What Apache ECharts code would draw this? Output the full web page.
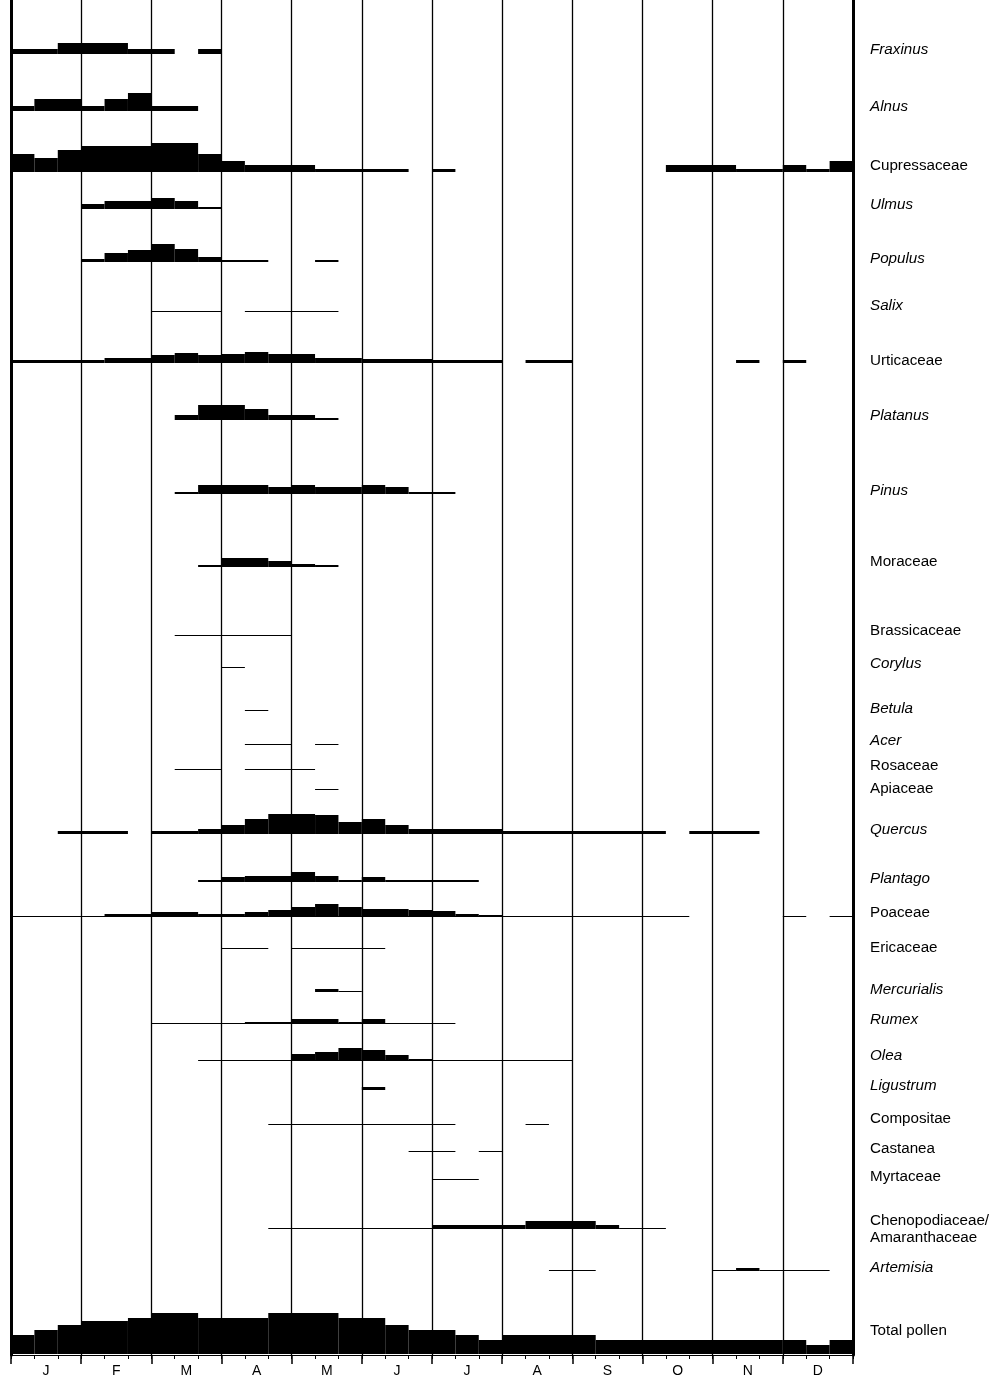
<!DOCTYPE html>
<html><head><meta charset="utf-8">
<script src="https://cdn.jsdelivr.net/npm/echarts@6/dist/echarts.min.js"></script>
<style>html,body{margin:0;padding:0;background:#fff}#c{width:999px;height:1378px}</style>
</head><body><div id="c"></div>
<script>
const months = ['J','F','M','A','M','J','J','A','S','O','N','D'];
const taxa = ['Fraxinus','Alnus','Cupressaceae','Ulmus','Populus','Salix','Urticaceae','Platanus','Pinus','Moraceae','Brassicaceae','Corylus','Betula','Acer','Rosaceae','Apiaceae','Quercus','Plantago','Poaceae','Ericaceae','Mercurialis','Rumex','Olea','Ligustrum','Compositae','Castanea','Myrtaceae','Chenopodiaceae/\nAmaranthaceae','Artemisia','Total pollen'];
const italic = [1,1,0,1,1,1,0,1,1,0,0,1,1,1,0,0,1,1,0,0,1,1,1,1,0,0,0,0,1,0];
// segments per taxon: [first 10-day period, last period, concentration class]
const fraxinus = [[0,1,5],[2,4,11],[5,6,5],[8,8,5]];
const alnus = [[0,0,5],[1,2,12],[3,3,5],[4,4,12],[5,5,18],[6,7,5]];
const cupressaceae = [[0,0,18],[1,1,14],[2,2,22],[3,5,26],[6,7,29],[8,8,18],[9,9,11],[10,12,7],[13,16,3],[18,18,3],[28,30,7],[31,32,3],[33,33,7],[34,34,3],[35,35,11]];
const ulmus = [[3,3,5],[4,5,8],[6,6,11],[7,7,8],[8,8,2]];
const populus = [[3,3,3],[4,4,9],[5,5,12],[6,6,18],[7,7,13],[8,8,5],[9,10,2],[13,13,2]];
const salix = [[6,8,1],[10,13,1]];
const urticaceae = [[0,3,3],[4,5,5],[6,6,8],[7,7,10],[8,8,8],[9,9,9],[10,10,11],[11,12,9],[13,14,5],[15,17,4],[18,20,3],[22,23,3],[31,31,3],[33,33,3]];
const platanus = [[7,7,5],[8,9,15],[10,10,11],[11,12,5],[13,13,2]];
const pinus = [[7,7,2],[8,10,9],[11,11,7],[12,12,9],[13,14,7],[15,15,9],[16,16,7],[17,18,2]];
const moraceae = [[8,8,2],[9,10,9],[11,11,6],[12,12,3],[13,13,2]];
const brassicaceae = [[7,11,1]];
const corylus = [[9,9,1]];
const betula = [[10,10,1]];
const acer = [[10,11,1],[13,13,1]];
const rosaceae = [[7,8,1],[10,12,1]];
const apiaceae = [[13,13,1]];
const quercus = [[2,4,3],[6,7,3],[8,8,5],[9,9,9],[10,10,15],[11,12,20],[13,13,19],[14,14,12],[15,15,15],[16,16,9],[17,20,5],[21,27,3],[29,31,3]];
const plantago = [[8,8,2],[9,9,5],[10,11,6],[12,12,10],[13,13,6],[14,14,2],[15,15,5],[16,19,2]];
const poaceae = [[0,28,1],[33,33,1],[35,35,1],[4,5,3],[6,7,5],[8,9,3],[10,10,5],[11,11,7],[12,12,10],[13,13,13],[14,14,10],[15,16,8],[17,17,7],[18,18,6],[19,19,3],[20,20,2]];
const ericaceae = [[9,10,1],[12,15,1]];
const mercurialis = [[13,13,3],[14,14,1]];
const rumex = [[6,18,1],[10,11,2],[12,13,5],[14,14,2],[15,15,5]];
const olea = [[8,23,1],[12,12,7],[13,13,9],[14,14,13],[15,15,11],[16,16,6],[17,17,2]];
const ligustrum = [[15,15,3]];
const compositae = [[11,18,1],[22,22,1]];
const castanea = [[17,18,1],[20,20,1]];
const myrtaceae = [[18,19,1]];
const chenopodiaceae = [[11,17,1],[18,21,4],[22,24,8],[25,25,4],[26,27,1]];
const artemisia = [[23,24,1],[30,30,1],[31,31,3],[32,34,1]];
const totalPollen = [[0,0,19],[1,1,24],[2,2,29],[3,4,33],[5,5,36],[6,7,41],[8,10,36],[11,13,41],[14,15,36],[16,16,29],[17,18,24],[19,19,19],[20,20,14],[21,24,19],[25,32,14],[33,33,14],[34,34,9],[35,35,14]];
const allSegs = [fraxinus,alnus,cupressaceae,ulmus,populus,salix,urticaceae,platanus,pinus,moraceae,brassicaceae,corylus,betula,acer,rosaceae,apiaceae,quercus,plantago,poaceae,ericaceae,mercurialis,rumex,olea,ligustrum,compositae,castanea,myrtaceae,chenopodiaceae,artemisia,totalPollen];

// layout: baseline and label position (in y-axis units = px from top)
const baseY = [54,111,172,209,262,312,363,420,494,567,636,668,711,745,770,790,834,882,917,949,992,1024,1061,1090,1125,1152,1180,1229,1271,1354];
const labelY = [50,107,166,205,259,306,361,416,491,562,631,664,709,741,766,789,830,879,913,948,990,1020,1056,1086,1119,1149,1177,1229,1268,1331];

const bars = [];
allSegs.forEach((segs,r)=>segs.forEach(s=>bars.push([s[0],s[1]+1,baseY[r],s[2]])));
const labels = taxa.map((t,i)=>[36,labelY[i],i]);

const chart = echarts.init(document.getElementById('c'));
chart.setOption({
  animation:false,
  grid:{left:11,right:146,top:0,bottom:23},
  xAxis:[
    {type:'value',position:'bottom',min:0,max:36,interval:1,axisLine:{show:false,onZero:false},splitLine:{show:false},axisLabel:{show:false},
     axisTick:{show:true,length:4,lineStyle:{color:'#000',width:1}}},
    {type:'category',position:'bottom',data:months,boundaryGap:true,
     axisLine:{show:true,onZero:false,lineStyle:{color:'#000',width:1}},
     axisTick:{show:true,length:9,lineStyle:{color:'#000',width:1.5}},
     splitLine:{show:true,lineStyle:{color:'#000',width:1.3}},
     axisLabel:{color:'#000',fontFamily:'Liberation Sans',fontSize:14,margin:9}}
  ],
  yAxis:[
    {type:'value',min:0,max:1355,inverse:true,axisLine:{show:true,onZero:false,lineStyle:{color:'#000',width:3}},axisTick:{show:false},axisLabel:{show:false},splitLine:{show:false}},
    {type:'value',min:0,max:1355,inverse:true,position:'right',axisLine:{show:true,onZero:false,lineStyle:{color:'#000',width:3}},axisTick:{show:false},axisLabel:{show:false},splitLine:{show:false}}
  ],
  series:[
    {type:'custom',xAxisIndex:0,yAxisIndex:0,data:bars,clip:false,
     renderItem:function(params,api){
       const p0=api.coord([api.value(0),api.value(2)]);
       const p1=api.coord([api.value(1),api.value(2)]);
       const h=api.size([0,api.value(3)])[1];
       return {type:'rect',shape:{x:p0[0],y:p0[1]-h,width:p1[0]-p0[0],height:h},style:{fill:'#000'}};
     }},
    {type:'custom',xAxisIndex:0,yAxisIndex:0,data:labels,clip:false,
     renderItem:function(params,api){
       const p=api.coord([api.value(0),api.value(1)]);
       const i=api.value(2);
       return {type:'text',x:p[0]+17,y:p[1],style:{text:taxa[i],fill:'#000',fontSize:15.2,lineHeight:17,
         fontFamily:'Liberation Sans',fontStyle:italic[i]?'italic':'normal',verticalAlign:'middle',align:'left'}};
     }}
  ]
});
</script></body></html>
